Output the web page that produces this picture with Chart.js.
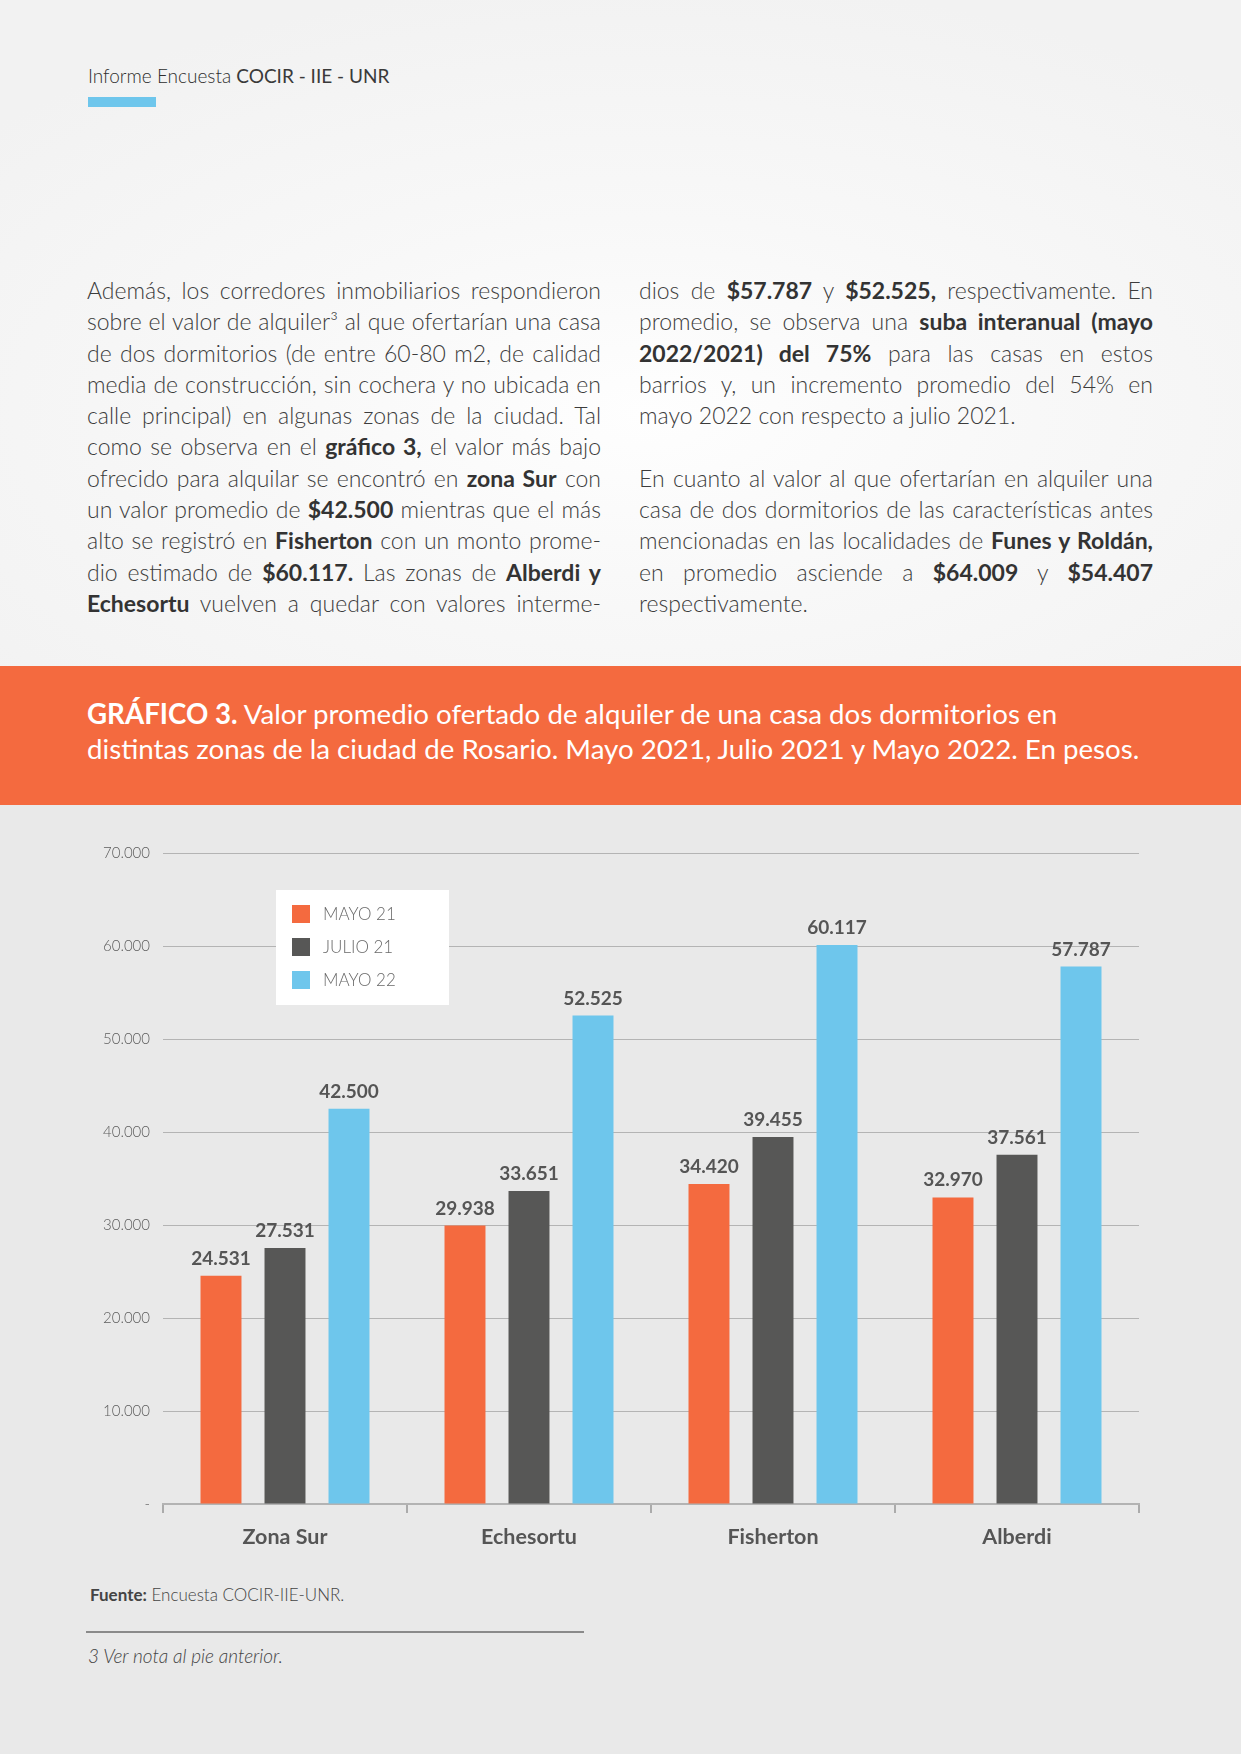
<!DOCTYPE html>
<html lang="es">
<head>
<meta charset="utf-8">
<script src="https://cdn.jsdelivr.net/npm/chart.js@4.4.0/dist/chart.umd.min.js"></script>
<style>
  html, body { margin: 0; padding: 0; }
  body { width: 1241px; height: 1754px; position: relative; overflow: hidden; font-family: 'Lato', sans-serif; background: #e9e9e9; }
  .top { position: absolute; left: 0; top: 0; width: 1241px; height: 666px;
         background: radial-gradient(ellipse 70% 65% at 52% 62%, #fefefe 0%, #f8f8f8 45%, #f2f2f2 100%); }
  .header { position: absolute; left: 88px; top: 64px; font-size: 19px; color: #3a3a3a; white-space: nowrap; }
  .header .l { font-weight: 300; color: #2e2e2e; }
  .header .r { font-weight: 400; color: #3a3a3a; }
  .bluebar { position: absolute; left: 88px; top: 97px; width: 68px; height: 10px; background: #6ec6ec; }
  .col { position: absolute; top: 275px; width: 514px; font-size: 23px; line-height: 31.3px; color: #3c3c3c; font-weight: 300; }
  .col div { text-align: justify; text-align-last: justify; white-space: nowrap; height: 31.3px; }
  .col div.last { text-align-last: left; }
  .col b { font-weight: 700; color: #333; }
  .band { position: absolute; left: 0; top: 666px; width: 1241px; height: 139px; background: #f46a3f; }
  .band .t { position: absolute; left: 87px; top: 30px; font-size: 27.7px; line-height: 35px; color: #fff; white-space: nowrap; font-weight: 400; }
  .band .t b { font-weight: 700; }
  #wrap { position: absolute; left: 0; top: 805px; width: 1241px; height: 760px; }
  .fuente { position: absolute; left: 90px; top: 1584px; font-size: 17px; color: #444; font-weight: 300; white-space: nowrap; }
  .fuente b { font-weight: 700; }
  .rule { position: absolute; left: 86px; top: 1631px; width: 498px; height: 2px; background: #8a8a8a; }
  .nota { position: absolute; left: 88px; top: 1644px; font-size: 19px; font-style: italic; font-weight: 300; color: #444; white-space: nowrap; }
</style>
</head>
<body>
<div class="top"></div>
<div class="header"><span class="l">Informe Encuesta </span><span class="r">COCIR - IIE - UNR</span></div>
<div class="bluebar"></div>

<div class="col" style="left:87px">
  <div>Además, los corredores inmobiliarios respondieron</div>
  <div>sobre el valor de alquiler³ al que ofertarían una casa</div>
  <div>de dos dormitorios (de entre 60-80 m2, de calidad</div>
  <div>media de construcción, sin cochera y no ubicada en</div>
  <div>calle principal) en algunas zonas de la ciudad. Tal</div>
  <div>como se observa en el <b>gráfico 3,</b> el valor más bajo</div>
  <div>ofrecido para alquilar se encontró en <b>zona Sur</b> con</div>
  <div>un valor promedio de <b>$42.500</b> mientras que el más</div>
  <div>alto se registró en <b>Fisherton</b> con un monto prome-</div>
  <div>dio estimado de <b>$60.117.</b> Las zonas de <b>Alberdi y</b></div>
  <div><b>Echesortu</b> vuelven a quedar con valores interme-</div>
</div>
<div class="col" style="left:639px">
  <div>dios de <b>$57.787</b> y <b>$52.525,</b> respectivamente. En</div>
  <div>promedio, se observa una <b>suba interanual (mayo</b></div>
  <div><b>2022/2021) del 75%</b> para las casas en estos</div>
  <div>barrios y, un incremento promedio del 54% en</div>
  <div class="last">mayo 2022 con respecto a julio 2021.</div>
  <div class="last"></div>
  <div>En cuanto al valor al que ofertarían en alquiler una</div>
  <div>casa de dos dormitorios de las características antes</div>
  <div>mencionadas en las localidades de <b>Funes y Roldán,</b></div>
  <div>en promedio asciende a <b>$64.009</b> y <b>$54.407</b></div>
  <div class="last">respectivamente.</div>
</div>

<div class="band"><div class="t"><b>GRÁFICO 3.</b> Valor promedio ofertado de alquiler de una casa dos dormitorios en<br>distintas zonas de la ciudad de Rosario. Mayo 2021, Julio 2021 y Mayo 2022. En pesos.</div></div>

<div id="wrap"><canvas id="grafico" width="1241" height="760"></canvas></div>

<div class="fuente"><b>Fuente:</b> Encuesta COCIR-IIE-UNR.</div>
<div class="rule"></div>
<div class="nota">3 Ver nota al pie anterior.</div>

<script>
// datos del grafico
const zonas = ['Zona Sur', 'Echesortu', 'Fisherton', 'Alberdi'];
const mayo21 = [24531, 29938, 34420, 32970];
const julio21 = [27531, 33651, 39455, 37561];
const mayo22 = [42500, 52525, 60117, 57787];
const series = ['MAYO 21', 'JULIO 21', 'MAYO 22'];
const colores = ['#f46a3f', '#575756', '#6ec6ec'];
const yMax = 70000;
const yPaso = 10000;

function formato(n){
    // separador de miles con punto
    return String(n).replace(/\B(?=(\d{3})+(?!\d))/g, '.');
}

// etiquetas sobre las barras
const etiquetas = {
    id: 'etiquetas',
    afterDatasetsDraw(chart){
        const c = chart.ctx;
        c.save();
        c.font = '700 19px Lato';
        c.fillStyle = '#555555';
        c.textAlign = 'center';
        c.textBaseline = 'alphabetic';
        chart.data.datasets.forEach((ds, i) => {
            chart.getDatasetMeta(i).data.forEach((bar, j) => {
                c.fillText(formato(ds.data[j]), bar.x, bar.y - 11);
            });
        });
        c.restore();
    }
};

// leyenda en recuadro blanco
const leyenda = {
    id: 'leyenda',
    afterDraw(chart){
        const c = chart.ctx;
        const a = chart.chartArea;
        const x = a.left + 113, y = a.top + 37;
        c.save();
        c.fillStyle = '#ffffff';
        c.fillRect(x, y, 173, 115);
        c.font = '300 17px Lato';
        c.textBaseline = 'middle';
        chart.data.datasets.forEach((ds, i) => {
            const cy = y + 24 + i * 33;
            c.fillStyle = ds.backgroundColor;
            c.fillRect(x + 16, cy - 9, 18, 18);
            c.fillStyle = '#6a6a6a';
            c.fillText(ds.label, x + 47, cy + 1);
        });
        c.restore();
    }
};

const ctx = document.getElementById('grafico').getContext('2d');
const grafico = new Chart(ctx, {
    type: 'bar',
    data: {
        labels: zonas,
        datasets: [
            { label: series[0], data: mayo21, backgroundColor: colores[0] },
            { label: series[1], data: julio21, backgroundColor: colores[1] },
            { label: series[2], data: mayo22, backgroundColor: colores[2] }
        ]
    },
    options: {
        responsive: false,
        animation: false,
        devicePixelRatio: 1,
        categoryPercentage: 0.787,
        barPercentage: 0.64,
        layout: { padding: { top: 48, right: 102, bottom: 6, left: 0 } },
        plugins: { legend: { display: false }, tooltip: { enabled: false } },
        scales: {
            x: {
                grid: { offset: true, drawOnChartArea: false, drawTicks: true, tickLength: 9, color: '#ababab', lineWidth: 2 },
                border: { display: true, color: '#b3b3b3', width: 2 },
                ticks: { font: { family: 'Lato', size: 21.5, weight: '700' }, color: '#555555', padding: 11 },
                afterFit: s => { s.height = 55; }
            },
            y: {
                min: 0,
                max: yMax,
                ticks: {
                    stepSize: yPaso,
                    font: { family: 'Lato', size: 15, weight: '300' },
                    color: '#5c5c5c',
                    padding: 13,
                    callback: v => v === 0 ? '-' : formato(v)
                },
                grid: { color: '#b4b4b4', lineWidth: 1, drawTicks: false },
                border: { display: false },
                afterFit: s => { s.width = 163; }
            }
        }
    },
    plugins: [etiquetas, leyenda]
});
</script>
</body>
</html>
